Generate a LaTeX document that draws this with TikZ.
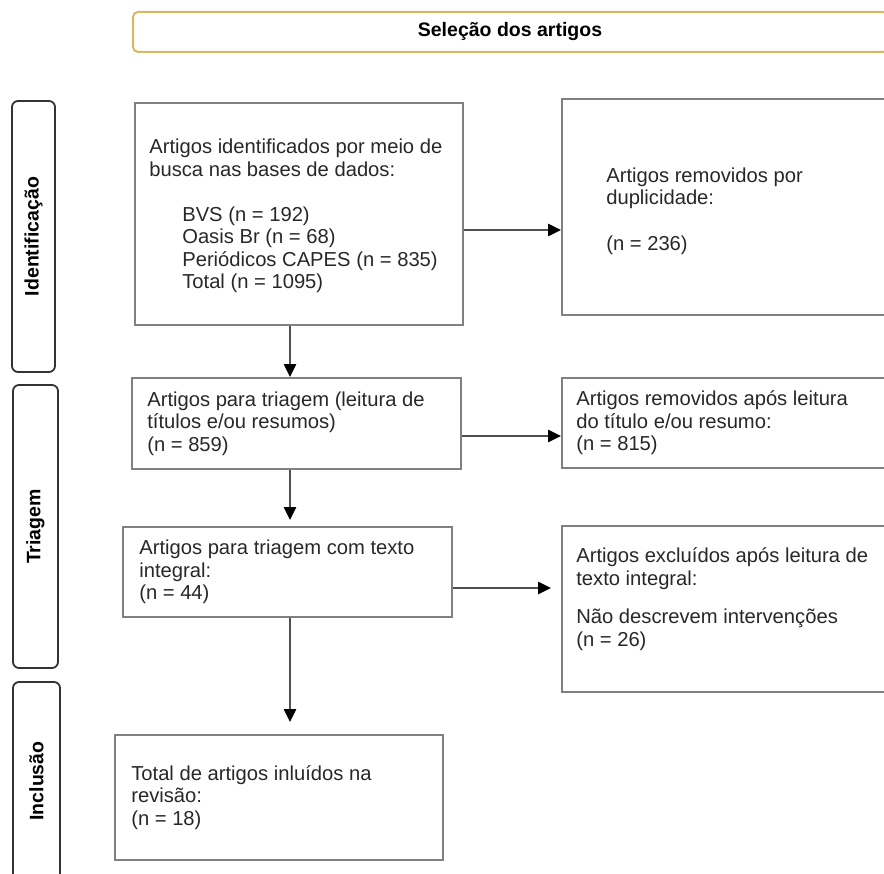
\documentclass[tikz,border=0pt]{standalone}
\usepackage{fontspec}
\setmainfont{Liberation Sans}
\usetikzlibrary{arrows.meta}
\definecolor{boxgray}{RGB}{128,128,128}
\definecolor{txtgray}{RGB}{40,40,40}
\definecolor{gold}{RGB}{215,185,100}
\definecolor{arrgray}{RGB}{80,80,80}
\begin{document}
\begin{tikzpicture}[x=1pt,y=-1pt,
 box/.style={draw=boxgray, line width=1.8pt, fill=white, inner sep=0pt},
 txt/.style={anchor=west, align=left, inner sep=0pt, text=txtgray, font=\fontsize{20.2}{22.5}\selectfont},
 lab/.style={draw=black!80, line width=1.8pt, rounded corners=6pt, inner sep=0pt},
 labtxt/.style={rotate=90, inner sep=0pt, font=\bfseries\fontsize{19.5}{22}\selectfont},
 arr/.style={draw=arrgray, line width=2.2pt, -{Triangle[length=13pt,width=12pt,color=black]}}]
\useasboundingbox (0,0) rectangle (884,874);
\clip (0,0) rectangle (884,874);
% header
\node[draw=gold, line width=2pt, rounded corners=5pt, minimum width=755pt, minimum height=40pt, inner sep=0pt] (hd) at (510.5,32) {};
\node[inner sep=0pt, font=\bfseries\fontsize{19.5}{22}\selectfont] (ht) at ([xshift=-0.5pt]hd) {Seleção dos artigos};
% side labels
\node[lab, minimum width=43pt, minimum height=271pt] (L1) at (33.5,236.5) {};
\node[labtxt] (L1t) at (L1) {Identificação};
\node[lab, minimum width=45pt, minimum height=283pt] (L2) at (35.5,526.5) {};
\node[labtxt] (L2t) at (L2) {Triagem};
\node[lab, minimum width=47pt, minimum height=198pt] (L3) at (36.5,781) {};
\node[labtxt] (L3t) at (L3) {Inclusão};
% boxes
\node[box, minimum width=328pt, minimum height=222pt] (b1) at (299,214) {};
\node[box, minimum width=326pt, minimum height=216pt] (b2) at (725,207) {};
\node[box, minimum width=329pt, minimum height=91pt] (b3) at (296.5,423.5) {};
\node[box, minimum width=326pt, minimum height=90pt] (b4) at (725,423) {};
\node[box, minimum width=329pt, minimum height=90pt] (b5) at (287.5,572) {};
\node[box, minimum width=326pt, minimum height=166pt] (b6) at (725,609) {};
\node[box, minimum width=328pt, minimum height=125pt] (b7) at (279,797.5) {};
% texts
\node[txt] (t1) at ([xshift=15pt,yshift=-2pt]b1.west) {Artigos identificados por meio de\\ busca nas bases de dados:\\[22.5pt] \hspace*{33pt}BVS (n = 192)\\ \hspace*{33pt}Oasis Br (n = 68)\\ \hspace*{33pt}Periódicos CAPES (n = 835)\\ \hspace*{33pt}Total (n = 1095)};
\node[txt] (t2) at ([xshift=45pt,yshift=-4pt]b2.west) {Artigos removidos por\\ duplicidade:\\[23pt] (n = 236)};
\node[txt] (t3) at ([xshift=16pt]b3.west) {Artigos para triagem (leitura de\\ títulos e/ou resumos)\\ (n = 859)};
\node[txt] (t4) at ([xshift=15pt]b4.west) {Artigos removidos após leitura\\ do título e/ou resumo:\\ (n = 815)};
\node[txt] (t5) at ([xshift=17pt]b5.west) {Artigos para triagem com texto\\ integral:\\ (n = 44)};
\node[txt] (t6) at ([xshift=15pt,yshift=10pt]b6.west) {Artigos excluídos após leitura de\\ texto integral:\\[16pt] Não descrevem intervenções\\ (n = 26)};
\node[txt] (t7) at ([xshift=17pt]b7.west) {Total de artigos inluídos na\\ revisão:\\ (n = 18)};
% connectors
\coordinate (ax) at (290,0);
\coordinate (ay1) at (0,230);
\coordinate (ay2) at (0,436);
\coordinate (ay3) at (0,588);
\draw[arr] (b1.south -| ax) -- (b3.north -| ax);
\draw[arr, shorten >=6pt] (b3.south -| ax) -- (b5.north -| ax);
\draw[arr, shorten >=12pt] (b5.south -| ax) -- (b7.north -| ax);
\draw[arr] (b1.east |- ay1) -- (b2.west |- ay1);
\draw[arr] (b3.east |- ay2) -- (b4.west |- ay2);
\draw[arr, shorten >=10pt] (b5.east |- ay3) -- (b6.west |- ay3);
\end{tikzpicture}
\end{document}
